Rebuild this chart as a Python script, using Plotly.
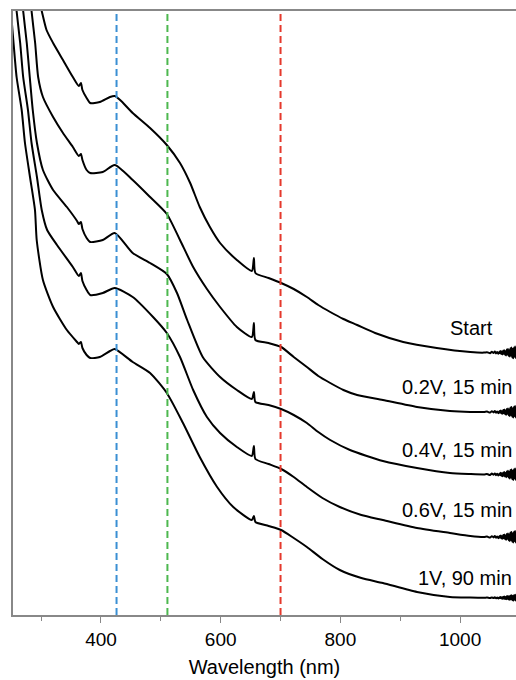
import plotly.graph_objects as go

# Wavelength (nm) / absorbance (a.u., offset)
wl_start = [296, 301, 309, 320, 336.5, 353, 363, 366.5, 369, 376, 382, 398, 415, 423, 432, 453, 482, 510,
            532, 549, 565, 582, 599, 627, 652, 655.5, 658, 680, 701, 722, 744, 763, 783, 805, 828, 858, 905,
            961, 1017]
ab_start = [3.08, 3.02, 2.925, 2.86, 2.775, 2.69, 2.645, 2.66, 2.625, 2.585, 2.56, 2.565, 2.59, 2.595, 2.575,
            2.51, 2.435, 2.35, 2.26, 2.16, 2.04, 1.94, 1.86, 1.775, 1.72, 1.785, 1.71, 1.685, 1.66, 1.63,
            1.59, 1.55, 1.515, 1.48, 1.45, 1.41, 1.365, 1.335, 1.315]

wl_02 = [282, 284, 290, 295, 303, 320, 336.5, 353, 363, 366.5, 369, 376, 382, 403, 423, 453, 482, 510, 532,
         554, 577, 599, 627, 652, 655.5, 658, 680, 701, 722, 744, 763, 783, 805, 828, 871, 928, 983, 1017]
ab_02 = [3.1, 3.02, 2.86, 2.69, 2.59, 2.49, 2.41, 2.34, 2.295, 2.305, 2.275, 2.225, 2.21, 2.215, 2.25, 2.175,
         2.09, 2.005, 1.875, 1.74, 1.63, 1.54, 1.44, 1.39, 1.46, 1.375, 1.36, 1.34, 1.29, 1.24, 1.195, 1.16,
         1.125, 1.10, 1.075, 1.04, 1.02, 1.015]

wl_04 = [268, 270, 276, 281, 286, 293, 303, 320, 343, 360, 363, 366.5, 369, 376, 382, 403, 423, 453, 482, 510,
         527, 544, 570, 599, 627, 652, 655.5, 658, 680, 701, 722, 744, 763, 783, 816, 871, 928, 983, 1017]
ab_04 = [3.1, 3.02, 2.86, 2.69, 2.525, 2.36, 2.225, 2.125, 2.04, 1.97, 1.955, 1.965, 1.93, 1.885, 1.865,
         1.875, 1.91, 1.81, 1.76, 1.705, 1.61, 1.475, 1.29, 1.19, 1.125, 1.08, 1.115, 1.065, 1.05, 1.03, 1.0,
         0.96, 0.915, 0.875, 0.825, 0.77, 0.735, 0.71, 0.705]

wl_06 = [257, 259, 265, 270, 278, 284, 293, 301, 310, 326.5, 353, 363, 366.5, 369, 376, 382, 403, 423, 453,
         487, 510, 532, 554, 577, 599, 627, 652, 655.5, 658, 680, 701, 722, 744, 770, 799, 835, 871, 928, 983,
         1017]
ab_06 = [3.1, 3.02, 2.86, 2.69, 2.525, 2.36, 2.19, 2.025, 1.925, 1.85, 1.74, 1.695, 1.71, 1.67, 1.625, 1.60,
         1.61, 1.635, 1.59, 1.49, 1.41, 1.29, 1.125, 0.99, 0.91, 0.84, 0.795, 0.845, 0.78, 0.755, 0.73, 0.69,
         0.64, 0.585, 0.54, 0.50, 0.475, 0.435, 0.41, 0.395]

wl_1v = [250, 253.5, 259, 267.5, 273, 281.4, 289.7, 292.6, 303, 320, 343, 360, 363, 366.5, 369, 376, 382, 398,
         415, 423, 453, 482, 510, 537, 565, 594, 621, 652, 655.5, 658, 680, 701, 722, 744, 770, 799, 835, 871,
         928, 983, 1017]
ab_1v = [3.0, 2.875, 2.69, 2.525, 2.36, 2.19, 2.025, 1.875, 1.675, 1.54, 1.425, 1.365, 1.355, 1.365, 1.335,
         1.30, 1.285, 1.29, 1.32, 1.33, 1.265, 1.21, 1.11, 0.96, 0.79, 0.64, 0.54, 0.475, 0.495, 0.465, 0.445,
         0.425, 0.385, 0.34, 0.28, 0.225, 0.185, 0.16, 0.115, 0.09, 0.087]

# noisy detector tail
tail_wl = [1040, 1045, 1050, 1053, 1056, 1058, 1060, 1062, 1064, 1066, 1067, 1068, 1069, 1070, 1071, 1072,
           1073, 1074, 1075, 1076, 1077, 1078, 1079, 1080, 1081, 1082, 1083, 1084, 1085, 1086, 1087, 1088,
           1089, 1090, 1091, 1092, 1093, 1094, 1095]
tail_start = [1.312, 1.314, 1.309, 1.316, 1.310, 1.317, 1.308, 1.315, 1.306, 1.317, 1.309, 1.320, 1.305,
              1.316, 1.303, 1.322, 1.306, 1.324, 1.301, 1.319, 1.298, 1.327, 1.303, 1.330, 1.296, 1.324,
              1.292, 1.334, 1.297, 1.337, 1.288, 1.330, 1.284, 1.338, 1.292, 1.342, 1.285, 1.334, 1.302]
tail_02 = [1.015, 1.017, 1.012, 1.019, 1.013, 1.020, 1.011, 1.018, 1.009, 1.020, 1.012, 1.023, 1.008, 1.019,
           1.006, 1.025, 1.009, 1.027, 1.004, 1.022, 1.001, 1.030, 1.006, 1.033, 0.999, 1.027, 0.995, 1.037,
           1.000, 1.040, 0.991, 1.033, 0.987, 1.041, 0.995, 1.045, 0.988, 1.037, 1.005]
tail_04 = [0.703, 0.705, 0.700, 0.707, 0.701, 0.708, 0.699, 0.706, 0.697, 0.708, 0.700, 0.711, 0.696, 0.707,
           0.694, 0.713, 0.697, 0.715, 0.692, 0.710, 0.689, 0.718, 0.694, 0.721, 0.687, 0.715, 0.683, 0.725,
           0.688, 0.728, 0.679, 0.721, 0.675, 0.729, 0.683, 0.733, 0.676, 0.725, 0.693]
tail_06 = [0.390, 0.392, 0.387, 0.394, 0.388, 0.395, 0.386, 0.393, 0.384, 0.395, 0.387, 0.398, 0.383, 0.394,
           0.381, 0.400, 0.384, 0.402, 0.379, 0.397, 0.376, 0.405, 0.381, 0.408, 0.374, 0.402, 0.370, 0.412,
           0.375, 0.415, 0.366, 0.408, 0.362, 0.416, 0.370, 0.420, 0.363, 0.412, 0.380]
tail_1v = [0.086, 0.087, 0.0845, 0.088, 0.085, 0.0885, 0.084, 0.0875, 0.083, 0.0885, 0.0845, 0.090, 0.0825,
           0.088, 0.0815, 0.091, 0.083, 0.092, 0.0805, 0.0895, 0.079, 0.0935, 0.0815, 0.095, 0.078, 0.092,
           0.076, 0.097, 0.0785, 0.0985, 0.074, 0.095, 0.072, 0.099, 0.076, 0.101, 0.0725, 0.097, 0.081]

series = [
    ("Start", wl_start + tail_wl, ab_start + tail_start),
    ("0.2V, 15 min", wl_02 + tail_wl, ab_02 + tail_02),
    ("0.4V, 15 min", wl_04 + tail_wl, ab_04 + tail_04),
    ("0.6V, 15 min", wl_06 + tail_wl, ab_06 + tail_06),
    ("1V, 90 min", wl_1v + tail_wl, ab_1v + tail_1v),
]

label_text = ["Start", "0.2V, 15 min", "0.4V, 15 min", "0.6V, 15 min", "1V, 90 min"]
label_wl = [1058, 1090, 1090, 1090, 1090]
label_ab = [1.435, 1.14, 0.825, 0.525, 0.185]

marker_wl = [426, 511, 700]
marker_colors = ["#3a8fd3", "#4db84f", "#e5392c"]

x_ticks = [400, 600, 800, 1000]
x_minor = [300, 500, 700, 900]
x_range = [253, 1093.4]
y_range = [0, 3.02]

fig = go.Figure()
for name, x, y in series:
    fig.add_trace(go.Scatter(x=x, y=y, mode="lines", name=name,
                             line=dict(color="black", width=2, shape="spline", smoothing=0.6),
                             showlegend=False, hoverinfo="skip"))

for w, c in zip(marker_wl, marker_colors):
    fig.add_shape(type="line", x0=w, x1=w, y0=0, y1=1, xref="x", yref="paper",
                  line=dict(color=c, width=2, dash="7px,4px"), layer="above")

for t, xw, ya in zip(label_text, label_wl, label_ab):
    fig.add_annotation(x=xw, y=ya, text=t, showarrow=False, xanchor="right", yanchor="middle",
                       font=dict(family="Liberation Sans, Arial, sans-serif", size=20, color="black"))

fig.update_layout(
    width=516, height=680,
    margin=dict(l=13, r=0, t=11, b=65),
    plot_bgcolor="white", paper_bgcolor="white",
    font=dict(family="Liberation Sans, Arial, sans-serif", size=19, color="black"),
    xaxis=dict(range=x_range, tickvals=x_ticks, ticks="outside", ticklen=6, tickcolor="#888",
               showline=True, linecolor="#888", linewidth=1.5, mirror=True, showgrid=False, zeroline=False,
               minor=dict(tickvals=x_minor, ticks="outside", ticklen=4, tickcolor="#888"),
               title=dict(text="Wavelength (nm)", font=dict(size=20), standoff=11),
               tickfont=dict(size=19)),
    yaxis=dict(range=y_range, showticklabels=False, ticks="", showline=True, linecolor="#888",
               linewidth=1.5, showgrid=False, zeroline=False),
)

fig.write_html("out.html", config={"displayModeBar": False},
               post_script="document.body.style.margin='0';document.body.style.overflow='hidden';")
